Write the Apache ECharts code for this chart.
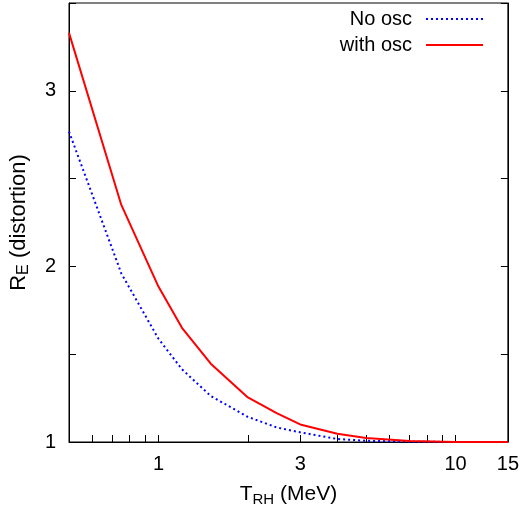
<!DOCTYPE html>
<html>
<head>
<meta charset="utf-8">
<script src="https://cdn.jsdelivr.net/npm/echarts@6/dist/echarts.min.js"></script>
<style>html,body{margin:0;padding:0;background:#fff;}#c{width:522px;height:512px;}</style>
</head>
<body>
<div id="c"></div>
<script>
const tRH = [0.5, 0.75, 1, 1.2, 1.5, 2, 2.5, 3, 4, 5, 7, 10, 15];
const noOsc = [2.768, 1.96, 1.588, 1.414, 1.262, 1.143, 1.083, 1.055, 1.017, 1.007, 1.002, 1.0, 1.0];
const withOsc = [3.33, 2.35, 1.885, 1.65, 1.446, 1.254, 1.165, 1.10, 1.047, 1.023, 1.005, 1.0, 1.0];
const xTickValues = [0.6, 0.7, 0.8, 0.9, 1, 2, 3, 4, 5, 6, 7, 8, 9, 10];
const xLabelValues = [1, 3, 10, 15];
const yLabelValues = [1, 2, 3];

const FONT = 'Liberation Sans';
const chart = echarts.init(document.getElementById('c'), null, {renderer: 'canvas'});
const pair = (xs, ys) => xs.map((x, i) => [x, ys[i]]);
const rich = (fs) => ({
  n: {fontFamily: FONT, fontSize: fs, color: '#000'},
  s: {fontFamily: FONT, fontSize: Math.round(fs * 0.72), color: '#000', padding: [10, 0, 0, 0]}
});
chart.setOption({
  animation: false,
  backgroundColor: '#fff',
  grid: {left: 68, right: 11, top: 3, bottom: 68, show: true, borderColor: '#000', borderWidth: 1, backgroundColor: 'transparent'},
  legend: {
    right: 33, top: 4, orient: 'vertical', align: 'right',
    itemWidth: 57, itemHeight: 14, itemGap: 6,
    itemStyle: {opacity: 0},
    textStyle: {fontFamily: FONT, fontSize: 20, color: '#000', padding: [0, 9, 0, 0]},
    data: ['No osc', 'with osc']
  },
  xAxis: {
    type: 'log', logBase: 10, min: 0.5, max: 15,
    name: '{n|T}{s|RH}{n| (MeV)}', nameLocation: 'middle', nameGap: 40,
    nameTextStyle: {rich: rich(21)},
    axisLine: {show: true, onZero: false, lineStyle: {color: '#000', width: 1}},
    axisTick: {show: true, inside: true, length: 7, customValues: xTickValues, lineStyle: {color: '#000'}},
    axisLabel: {customValues: xLabelValues, fontFamily: FONT, fontSize: 20, color: '#000', margin: 12, formatter: v => String(Math.round(v))},
    splitLine: {show: false}, minorTick: {show: false}, minorSplitLine: {show: false}
  },
  yAxis: [{
    type: 'value', min: 1, max: 3.5, interval: 0.5,
    name: '{n|R}{s|E}{n| (distortion)}', nameLocation: 'middle', nameGap: 37, nameRotate: 90,
    nameTextStyle: {rich: rich(22)},
    axisLine: {show: true, onZero: false, lineStyle: {color: '#000', width: 1}},
    axisTick: {show: true, inside: true, length: 7, lineStyle: {color: '#000'}},
    axisLabel: {customValues: yLabelValues, fontFamily: FONT, fontSize: 20, color: '#000', margin: 13},
    splitLine: {show: false}
  }, {
    type: 'value', min: 1, max: 3.5, interval: 0.5, position: 'right',
    axisLine: {show: true, onZero: false, lineStyle: {color: '#000', width: 1}},
    axisTick: {show: true, inside: true, length: 7, lineStyle: {color: '#000'}},
    axisLabel: {show: false}, splitLine: {show: false}
  }],
  series: [{
    name: 'No osc', type: 'line', data: pair(tRH, noOsc), showSymbol: false, symbol: 'none',
    color: '#0000ff',
    lineStyle: {color: '#0000ff', width: 2, type: [2, 3], cap: 'butt'}
  }, {
    name: 'with osc', type: 'line', data: pair(tRH, withOsc), showSymbol: false, symbol: 'none',
    color: '#ff0000',
    lineStyle: {color: '#ff0000', width: 2}
  }]
});
</script>
</body>
</html>
